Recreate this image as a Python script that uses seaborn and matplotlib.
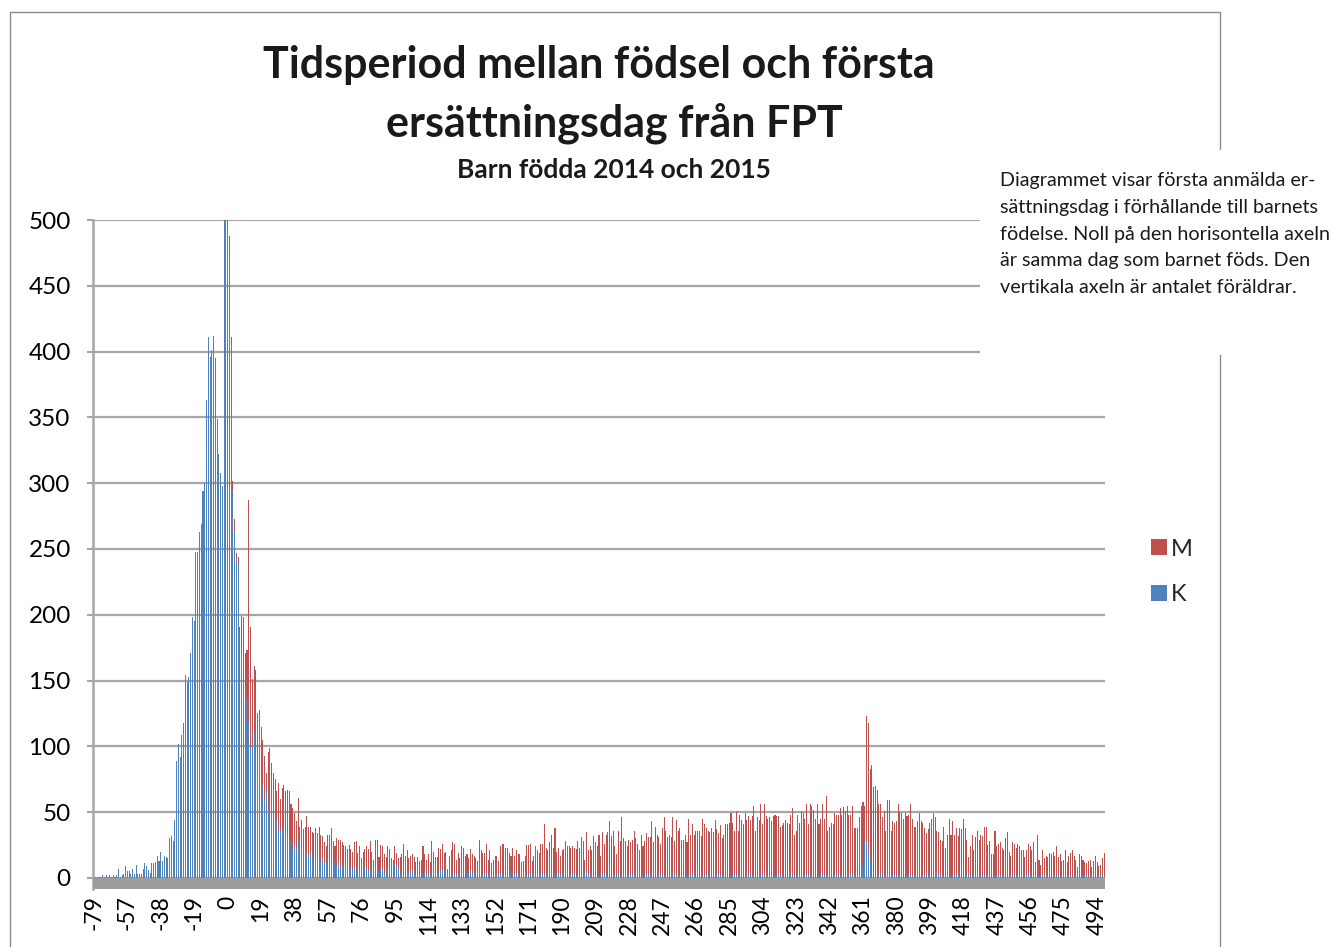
import matplotlib
matplotlib.use('Agg')
import matplotlib.pyplot as plt
import seaborn as sns
import pandas as pd
from matplotlib.patches import Patch, Rectangle

# kategorier: dagar relativt barnets födelse (-79 .. 498), några tidiga dagar saknas
days = [-79, -77, -75, -73] + list(range(-72, 499))

# M (män), antal föräldrar per dag
m_before = [0, 0, 1, 0,
            0, 1, 0, 0, 1, 0, 0, 1, 0, 0, 1, 0, 1, 0, 0, 1, 0, 1, 1, 0,
            1, 0, 1, 1, 0, 2, 1, 1, 0, 2, 1, 2, 1, 1, 2, 3, 2, 2, 3, 2, 3, 4, 3,
            4, 6, 5, 7, 6, 8, 7, 9, 10, 9, 12, 11, 14, 13, 16, 15, 19, 18, 21, 23,
            22, 27, 25, 31, 29, 36, 41, 150, 320]
m_birth = [430, 488, 411,
           302, 273, 247, 244, 191, 199, 198, 171, 173, 287,
           191, 151, 161, 158, 125, 128, 115, 105, 93, 80,
           96, 99, 87, 80, 75, 66, 72, 60, 68, 71]
m_decline = [66, 67, 66, 56, 53, 49, 43, 61, 39, 44,
             37, 39, 47, 39, 39, 35, 34, 38, 34, 39,
             33, 32, 27, 24, 33, 33, 38, 28, 24, 30,
             29, 29, 27, 25, 24, 22, 25, 22, 20, 27,
             28, 19, 24, 15, 20, 22, 24, 22, 28, 20,
             14, 29, 29, 16, 25, 24, 18, 16, 24, 22,
             15]
m_low = [14, 24, 19, 15, 16, 18, 26, 17, 21, 15,
         17, 18, 16, 12, 16, 13, 14, 24, 18, 14,
         18, 12, 28, 20, 16, 16, 23, 22, 26, 19,
         20, 7, 17, 21, 27, 26, 14, 19, 15, 24,
         23, 17, 18, 15, 22, 18, 17, 15, 13, 29,
         21, 19, 19, 26, 14, 21, 11, 14, 17, 17,
         13, 24, 26, 26, 23, 23, 19, 17, 23, 17,
         21, 18, 18, 12, 13, 17, 25, 25, 26, 13,
         17, 24, 21, 19, 26, 26, 41, 23, 21, 27,
         33, 23, 38, 20, 23, 17, 21, 22, 28, 24,
         24, 23, 24]
m_rise = [23, 22, 28, 23, 31, 28, 14, 35, 21, 24,
          21, 32, 27, 24, 33, 17, 35, 26, 33, 35,
          43, 32, 36, 24, 18, 36, 28, 46, 30, 28,
          24, 29, 27, 29, 36, 30, 26, 21, 33, 24,
          28, 34, 31, 31, 43, 27, 39, 33, 31, 26,
          38, 46, 36, 31, 33, 31, 46, 28, 44, 36,
          38, 29, 29, 33, 27, 45, 33, 41, 33, 36,
          36, 36, 32, 45, 41, 38, 36, 35, 38, 35,
          44, 37, 34, 40, 30, 33, 41, 41, 42, 49,
          42, 36, 51, 36, 48, 44, 41, 49, 44, 47,
          44, 47]
m_year = [55, 36, 46, 44, 56, 41, 56, 47, 45, 46,
          43, 47, 48, 47, 47, 39, 40, 42, 44, 42,
          41, 48, 53, 33, 36, 48, 42, 51, 49, 45,
          56, 41, 56, 55, 52, 45, 56, 41, 45, 56,
          45, 62, 36, 39, 42, 41, 49, 48, 48, 53,
          48, 54, 51, 55, 48, 48, 55, 38, 38, 38,
          46, 55, 58, 55, 123, 118, 83, 86, 69, 70,
          67, 56, 56, 46, 51, 36, 59, 59, 36, 43,
          42, 43, 56, 50, 49, 45, 49, 47, 48, 56,
          45, 39, 39, 43, 49, 43, 42, 38, 34, 37,
          42, 45, 49]
m_tail = [46, 36, 35, 29, 28, 39, 23, 33, 45, 33,
          43, 33, 38, 32, 38, 37, 45, 38, 29, 16,
          24, 33, 21, 31, 36, 29, 33, 32, 39, 39,
          25, 28, 18, 18, 36, 24, 26, 27, 23, 21,
          30, 35, 20, 17, 27, 26, 23, 26, 24, 21,
          21, 16, 21, 26, 24, 21, 27, 12, 33, 14,
          10, 21, 15, 17, 16, 19, 18, 20, 17, 24,
          16, 18, 13, 14, 21, 12, 17, 19, 21, 17,
          14, 8, 18, 17, 14, 12, 11, 13, 14, 8,
          13, 17, 12, 9, 10, 15, 19]

# K (kvinnor)
k_before = [2, 1, 1, 1,
            1, 2, 1, 2, 1, 2, 1, 2, 1, 2, 7, 1, 2, 3, 9,
            5, 5, 3, 7, 3, 10, 3, 3, 3, 7, 11, 9, 6, 4, 11, 11, 12, 17, 13, 20,
            13, 17, 16, 15, 30, 32, 28, 44,
            89, 102, 92, 109, 118, 154, 149, 153, 171, 198,
            195, 248, 248, 263, 269, 294, 300, 363, 411, 396,
            401, 412, 395, 349, 322, 308, 298, 530, 575]
k_birth = [620, 470, 405,
           295, 263, 243, 237, 182, 178, 150, 143, 136, 119,
           100, 99, 111, 96, 78, 110, 77, 71, 60, 66,
           51, 58, 58, 47, 41, 45, 36, 36, 38, 42]
k_decline = [30, 33, 24, 28, 21, 25, 22, 29, 27, 20,
             18, 22, 19, 17, 20, 15, 12, 11, 16, 14,
             12, 15, 11, 13, 10, 14, 9, 11, 12, 9,
             13, 8, 10, 11, 7, 9, 12, 8, 6, 10,
             7, 9, 5, 8, 6, 10, 7, 5, 8, 6,
             4, 9, 7, 5, 8, 6, 4, 7, 5, 6,
             4, 10, 11]
k_low = [9, 6, 4, 5, 3, 6, 4, 3, 5, 7,
         4, 3, 5, 2, 4, 3, 5, 2, 3, 4,
         5, 6, 5, 3, 4, 6, 7, 5, 3, 4,
         8, 5, 3, 4, 2, 3, 5, 4, 3, 2,
         4, 3, 7, 4, 3, 2, 5, 8, 4, 3,
         2, 4, 3, 6, 3, 2, 4, 3, 2, 3,
         4, 2, 3, 5, 3, 5, 2, 3, 4, 2,
         3, 2, 4, 3, 2, 3, 2, 4, 3, 2,
         3, 2, 4, 3, 2, 3, 2, 3, 2, 3,
         2, 3, 4, 2, 3, 2, 3, 2, 4, 3,
         2, 3, 2, 3, 2, 3, 2, 4, 5, 3,
         2, 3, 2, 2, 3, 2, 3, 2, 3, 3,
         2, 3, 2, 3, 2, 2, 3, 2, 2, 3,
         2, 2, 3, 2, 2, 3, 2, 2, 2, 3,
         2, 2, 3, 2, 4, 2, 2, 3, 2, 2,
         3, 2, 2, 2, 3, 2, 2, 3, 2, 2,
         2, 3, 2, 2, 2, 3, 2, 2, 2, 3,
         2, 2, 3, 2, 2, 2, 2, 3, 2, 2,
         4, 2, 2, 3, 2, 2, 2, 3, 2, 2,
         2, 2, 3, 2, 2, 2, 3, 2, 2, 2,
         3, 2, 2, 2, 2, 3, 2, 2, 3, 2,
         2, 2, 3, 2, 2, 2, 2, 3, 2, 2,
         3, 2, 2, 2, 3, 2, 2, 2, 2, 3,
         2, 2, 3, 2, 2, 2, 3, 2, 2, 2,
         2, 3, 2, 2, 2, 2, 3, 2, 2, 3,
         2, 2, 2, 3, 4, 2, 2, 2, 3, 2,
         2, 3, 2, 3, 9, 9, 28, 28, 21, 14,
         5, 2, 3, 2, 2, 3, 2, 2, 2, 3,
         2, 2, 3, 2, 2, 2, 3, 2, 2, 2,
         2, 3, 2, 2, 2, 2, 3, 2, 2, 2,
         2, 2, 3, 2, 2, 2, 2, 3, 2, 2,
         2, 2, 2, 3, 2, 2, 2, 2, 2, 3,
         2, 2, 2, 2, 4, 2, 2, 2, 2, 2,
         4, 2, 2, 2, 2, 2, 3, 2, 2, 2,
         2, 2, 2, 2, 2, 2, 3, 2, 2, 2,
         2, 2, 2, 2, 2, 2, 2, 2, 2, 3,
         2, 2, 2, 2, 2, 2, 2, 2, 2, 2,
         2, 2, 2, 2, 2, 2, 2, 2, 2, 2,
         2, 2, 2, 2, 1, 2, 2, 2, 2, 2,
         2, 2, 2, 1, 2, 2, 2, 2, 1, 2,
         2, 2, 1]

m_counts = m_before + m_birth + m_decline + m_low + m_rise + m_year + m_tail
k_counts = k_before + k_birth + k_decline + k_low
assert len(m_counts) == len(days) and len(k_counts) == len(days)

df = pd.DataFrame({'dag': [str(d) for d in days], 'M': m_counts, 'K': k_counts})
order = df['dag'].tolist()

sns.set_theme(style='white')
plt.rcParams['font.family'] = ['Lato', 'DejaVu Sans']

W, H = 1335, 947
fig = plt.figure(figsize=(W / 100, H / 100), dpi=100)
ax = fig.add_axes([93 / W, (H - 888.5) / H, 1012 / W, (888.5 - 220) / H])

red = '#C0504D'
blue = '#4F81BD'
sns.barplot(data=df, x='dag', y='M', order=order, color=red, saturation=1,
            width=0.6, errorbar=None, linewidth=0, ax=ax)
sns.barplot(data=df, x='dag', y='K', order=order, color=blue, saturation=1,
            width=0.6, errorbar=None, linewidth=0, ax=ax)

ax.set_ylim(-8, 500)
ax.set_xlim(-0.5, len(days) - 0.5)
ax.axhspan(-8, 0, color='#9C9C9C', lw=0, zorder=3)
ax.set_yticks(range(0, 501, 50))
ax.yaxis.grid(True, color='#A6A6A6', lw=1.6)
ax.set_axisbelow(True)

tick_pos = list(range(0, len(days), 19))
ax.set_xticks(tick_pos)
ax.set_xticklabels([str(days[i]) for i in tick_pos], rotation=90, fontsize=16.5)
ax.tick_params(axis='x', length=0, pad=5, colors='#000000')
ax.tick_params(axis='y', length=4, width=1.5, color='#A6A6A6', pad=12, labelsize=17.5,
               labelcolor='#000000', left=True)
ax.set_xlabel('')
ax.set_ylabel('')
for s in ['top', 'right', 'bottom']:
    ax.spines[s].set_visible(False)
ax.spines['left'].set_color('#A6A6A6')
ax.spines['left'].set_linewidth(1.8)

# yttre ram och vit textruta
fig.add_artist(Rectangle((10 / W, -0.01), 1210 / W, (H - 12) / H + 0.01, transform=fig.transFigure,
                         facecolor='none', edgecolor='#8C8C8C', lw=1, zorder=1.5))
fig.add_artist(Rectangle((980 / W, (H - 355) / H), 355 / W, 205 / H, transform=fig.transFigure,
                         facecolor='white', edgecolor='none', zorder=2))

fig.text(599 / W, 1 - 65 / H, 'Tidsperiod mellan födsel och första', ha='center', va='center',
         fontsize=31, fontweight='bold', color='#1a1a1a')
fig.text(614 / W, 1 - 123 / H, 'ersättningsdag från FPT', ha='center', va='center',
         fontsize=31, fontweight='bold', color='#1a1a1a')
fig.text(614 / W, 1 - 170 / H, 'Barn födda 2014 och 2015', ha='center', va='center',
         fontsize=19, fontweight='bold', color='#1a1a1a')

note = ('Diagrammet visar första anmälda er-\n'
        'sättningsdag i förhållande till barnets\n'
        'födelse. Noll på den horisontella axeln\n'
        'är samma dag som barnet föds. Den\n'
        'vertikala axeln är antalet föräldrar.')
fig.text(1000 / W, 1 - 172 / H, note, ha='left', va='top', fontsize=14.2,
         linespacing=1.7, color='#1a1a1a', zorder=3)

handles = [Patch(facecolor=red, edgecolor='none'), Patch(facecolor=blue, edgecolor='none')]
fig.legend(handles, ['M', 'K'], loc='center left', bbox_to_anchor=(1130 / W, 1 - 572 / H),
           frameon=False, fontsize=17, handlelength=0.65, handleheight=0.65,
           handletextpad=0.2, labelspacing=1.05)

fig.savefig('out.png', dpi=100)
